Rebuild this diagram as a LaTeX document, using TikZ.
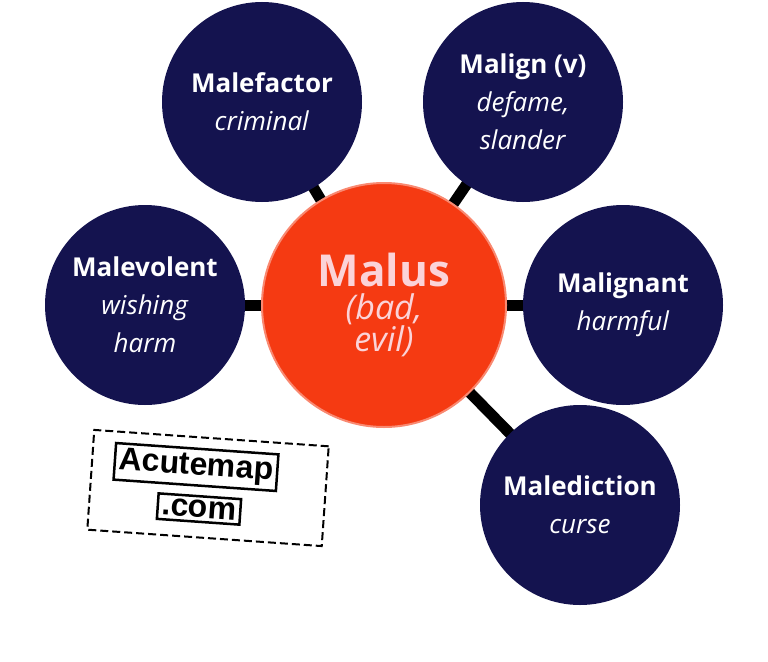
\documentclass[tikz,border=0pt]{standalone}
\usepackage{fontspec}
\setmainfont{Open Sans}
\newfontfamily\logofont{Liberation Sans}
\usetikzlibrary{backgrounds}
\definecolor{navy}{HTML}{14134F}
\definecolor{orng}{HTML}{F53A12}
\definecolor{pinkt}{HTML}{FBD3D8}
\begin{document}
\begin{tikzpicture}[x=1pt,y=-1pt,
  sat/.style={circle,fill=navy,minimum size=200pt,inner sep=0pt,text=white,align=center,font=\fontsize{26}{38}\selectfont},
  link/.style={line width=11pt,black},
  logobox/.style={draw,line width=2.5pt,fill=white,inner sep=4pt,font=\fontsize{32}{36}\selectfont\logofont\bfseries,rotate=-4}]
\useasboundingbox (0,0) rectangle (768,661);
\node[circle,fill=orng,draw=orng!60!white,line width=2pt,minimum size=244pt,inner sep=0pt,text=pinkt,align=center] (c) at (384,305)
  {{\fontsize{44}{50}\selectfont\bfseries Malus}\\[6pt]{\fontsize{34}{46}\selectfont\itshape (bad,}\\{\fontsize{34}{46}\selectfont\itshape evil)}};
\node[sat] (a) at (262,102) {\textbf{Malefactor}\\\textit{criminal}};
\node[sat] (b) at (523,102) {\textbf{Malign (v)}\\\textit{defame,}\\\textit{slander}};
\node[sat] (d) at (145,305) {\textbf{Malevolent}\\\textit{wishing}\\\textit{harm}};
\node[sat] (e) at (623,305) {\textbf{Malignant}\\\textit{harmful}};
\node[sat] (f) at (580,505) {\textbf{Malediction}\\\textit{curse}};
\begin{scope}[on background layer]
\foreach \n in {a,b,d,e,f} \draw[link] (c.center) -- (\n.center);
\end{scope}
\node[draw,dashed,dash pattern=on 8pt off 4pt,line width=2pt,minimum width=235pt,minimum height=100pt,rotate=-4] (logo) at (208,488) {};
\node[logobox] (l1) at (196,467) {Acutemap};
\node[logobox] (l2) at (199,509) {.com};
\end{tikzpicture}
\end{document}
